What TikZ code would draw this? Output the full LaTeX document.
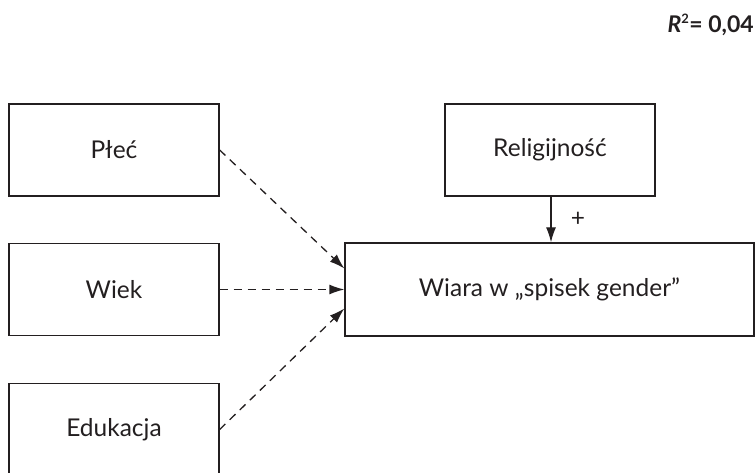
\documentclass[tikz,border=0pt]{standalone}
\usepackage{fontspec}
\setmainfont{Lato}
\usetikzlibrary{arrows.meta}
\definecolor{ink}{HTML}{231F20}
\tikzset{
  box/.style={draw=ink, line width=1.3pt, text=ink, minimum width=210pt, minimum height=92pt, inner sep=0pt, font=\fontsize{24.5}{28}\selectfont},
  conn/.style={draw=ink, line width=1.3pt, -{Latex[length=15pt,width=10pt]}},
  dconn/.style={conn, dash pattern=on 8pt off 6pt},
}
\begin{document}
\begin{tikzpicture}[x=1pt,y=-1pt]
\clip (0,0) rectangle (755,473);
\node[box] (plec) at (114,150) {Płeć};
\node[box] (wiek) at (114,289.5) {Wiek};
\node[box] (eduk) at (114,429.5) {Edukacja};
\node[box] (relig) at (550,150) {Religijność};
\node[box, minimum width=409pt, minimum height=93pt] (wiara) at (549.5,289.5) {Wiara w „spisek gender”};
\node[anchor=east, text=ink, inner sep=0pt, font=\fontsize{23}{26}\selectfont] (r2) at (754,25) {\textbf{\textit{R}\textsuperscript{\fontsize{13}{14}\selectfont 2}= 0,04}};
\coordinate (t1) at ([yshift=21pt]wiara.west);
\coordinate (t3) at ([yshift=-19pt]wiara.west);
\draw[dconn] (plec.east) -- (t1);
\draw[dconn] (wiek.east) -- (wiara.west);
\draw[dconn] (eduk.east) -- (t3);
\draw[conn] ([xshift=1pt]relig.south) -- ([xshift=1pt]relig.south |- wiara.north) node[midway, right=16pt, text=ink, font=\fontsize{24.5}{28}\selectfont] {+};
\end{tikzpicture}
\end{document}
